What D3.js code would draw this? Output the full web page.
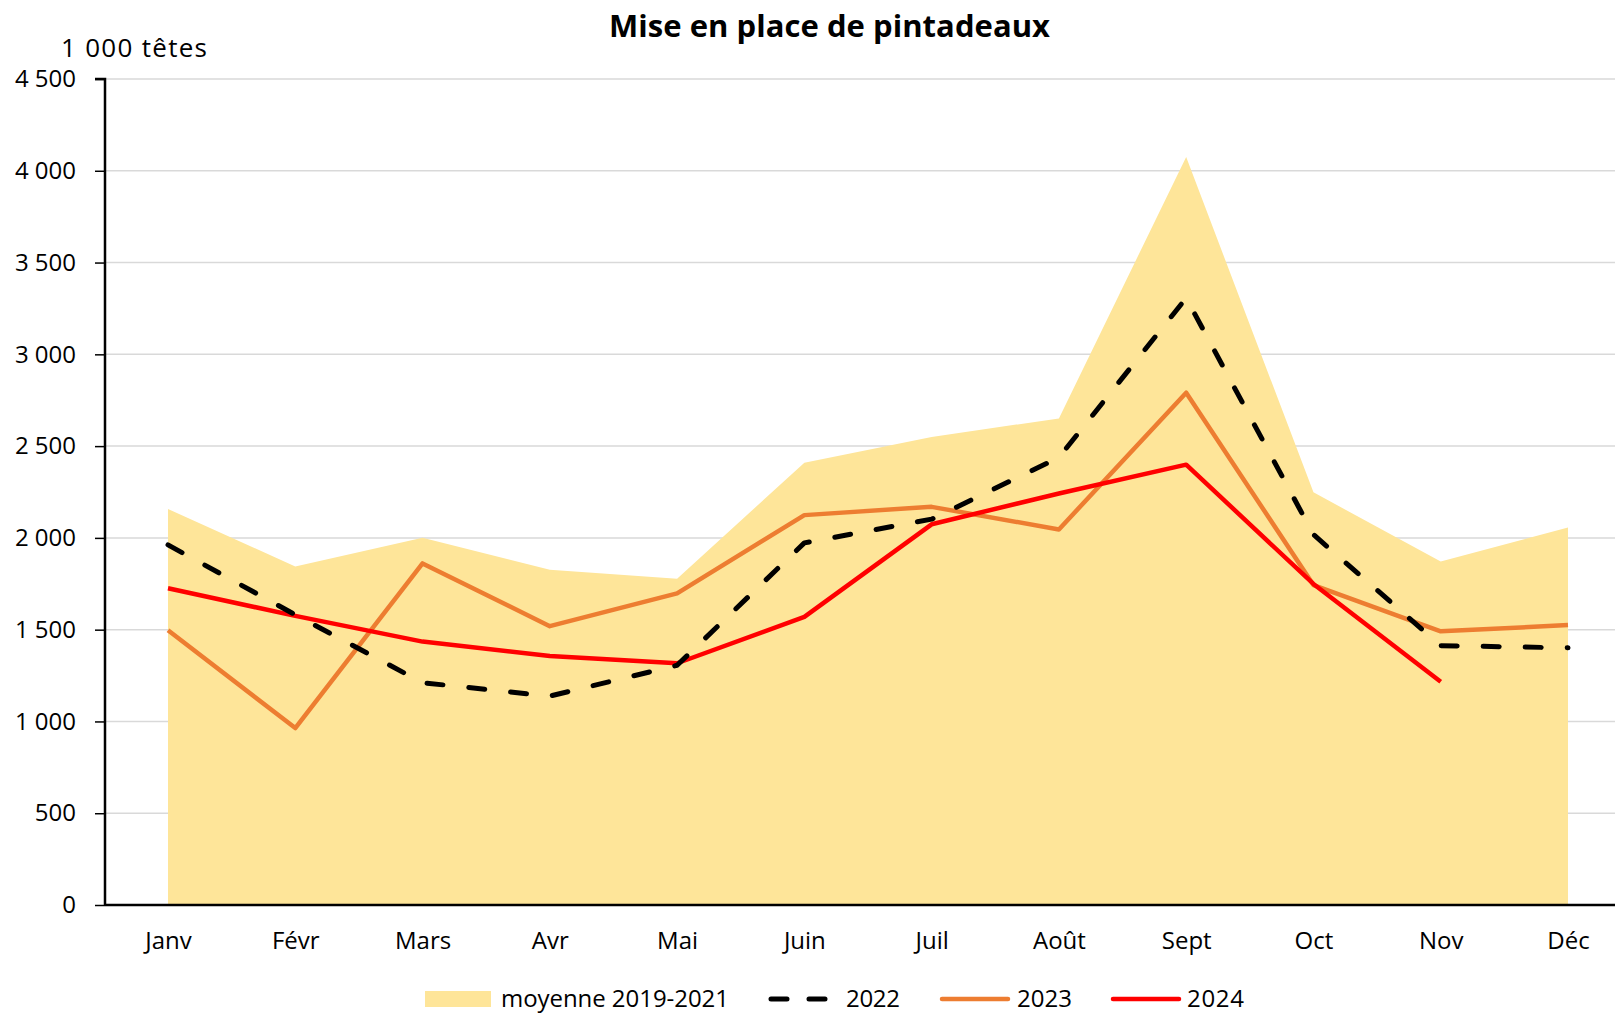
<!DOCTYPE html>
<html><head><meta charset="utf-8">
<script src="https://cdn.jsdelivr.net/npm/d3@7"></script>
<style>body{margin:0;background:#fff;overflow:hidden}svg{display:block}text{font-family:"Open Sans",sans-serif}</style>
</head><body>
<svg id="c" width="1615" height="1013"></svg>
<script>
const months = ["Janv","Févr","Mars","Avr","Mai","Juin","Juil","Août","Sept","Oct","Nov","Déc"];
const moyenne = [2158,1844,2001,1827,1777,2410,2550,2651,4075,2248,1872,2057];
const y2022 = [1962,1581,1211,1138,1306,1973,2102,2438,3307,2018,1413,1401];
const y2023 = [1497,964,1861,1519,1698,2124,2169,2046,2791,1743,1491,1525];
const y2024 = [1726,1575,1435,1357,1317,1570,2074,2242,2399,1749,1216];
const yTicks = [0,500,1000,1500,2000,2500,3000,3500,4000,4500];

(function(){
const FONT = '"Open Sans", sans-serif';
const svg = d3.select("#c");
const mLeft = 105, mTop = 79, mBottom = 905;
const x = d3.scalePoint().domain(months).range([168, 1568]);
const y = d3.scaleLinear().domain([0, 4500]).range([mBottom, mTop]);
const fmt = v => d3.format(",")(v).replace(/,/g, "\u00A0");

svg.append("g").selectAll("line").data(yTicks.filter(d => d > 0)).join("line")
  .attr("x1", mLeft).attr("x2", 1615).attr("y1", d => y(d)).attr("y2", d => y(d))
  .attr("stroke", "#d9d9d9").attr("stroke-width", 1.5);

svg.append("path").datum(moyenne)
  .attr("d", d3.area().x((d,i) => x(months[i])).y0(y(0)).y1(d => y(d)))
  .attr("fill", "#fee599");

const line = d3.line().x((d,i) => x(months[i])).y(d => y(d));
svg.append("path").datum(y2023).attr("d", line).attr("fill","none")
  .attr("stroke","#ed7d31").attr("stroke-width",4.5).attr("stroke-linejoin","round");
svg.append("path").datum(y2024).attr("d", line).attr("fill","none")
  .attr("stroke","#ff0000").attr("stroke-width",4.5).attr("stroke-linejoin","round");
svg.append("path").datum(y2022).attr("d", line).attr("fill","none")
  .attr("stroke","#000").attr("stroke-width",5).attr("stroke-linecap","round")
  .attr("stroke-linejoin","round").attr("stroke-dasharray","16,26");

const yAxis = d3.axisLeft(y).tickValues(yTicks).tickFormat(fmt).tickSize(10).tickPadding(19);
const gy = svg.append("g").attr("transform", `translate(${mLeft},0)`).call(yAxis);
gy.select(".domain").attr("stroke","#000").attr("stroke-width",2.5).attr("d", `M-10,${mTop}H0V${mBottom}`);
gy.selectAll(".tick line").attr("stroke","#000").attr("stroke-width",1.5);
gy.selectAll(".tick text").attr("font-size",24).attr("fill","#000").attr("font-family",FONT);

const xAxis = d3.axisBottom(x).tickSize(0).tickPadding(27);
const gx = svg.append("g").attr("transform", `translate(0,${mBottom})`).call(xAxis);
gx.select(".domain").attr("stroke","#000").attr("stroke-width",2.5).attr("d", `M${mLeft},0H1615`);
gx.selectAll(".tick text").attr("font-size",24).attr("fill","#000").attr("font-family",FONT);

svg.append("text").attr("x", 609).attr("y", 37)
  .attr("font-size",31).attr("font-weight","bold")
  .attr("textLength",441).attr("lengthAdjust","spacing").text("Mise en place de pintadeaux");
svg.append("text").attr("x", 61).attr("y", 57).attr("font-size",26)
  .attr("textLength",146).attr("lengthAdjust","spacing").text("1 000 têtes");

const lg = svg.append("g");
const ltxt = (xx, w, t) => lg.append("text").attr("x",xx).attr("y",1007).attr("font-size",24)
  .attr("textLength",w).attr("lengthAdjust","spacing").text(t);
lg.append("rect").attr("x",425).attr("y",991).attr("width",66).attr("height",16).attr("fill","#fee599");
ltxt(501, 228, "moyenne 2019-2021");
lg.append("line").attr("x1",771).attr("x2",830).attr("y1",999).attr("y2",999)
  .attr("stroke","#000").attr("stroke-width",5).attr("stroke-linecap","round").attr("stroke-dasharray","16,22");
ltxt(846, 54, "2022");
lg.append("line").attr("x1",942).attr("x2",1008).attr("y1",999).attr("y2",999)
  .attr("stroke","#ed7d31").attr("stroke-width",4.5).attr("stroke-linecap","round");
ltxt(1017, 55, "2023");
lg.append("line").attr("x1",1113).attr("x2",1179).attr("y1",999).attr("y2",999)
  .attr("stroke","#ff0000").attr("stroke-width",4.5).attr("stroke-linecap","round");
ltxt(1187, 57, "2024");
})();
</script>
</body></html>
